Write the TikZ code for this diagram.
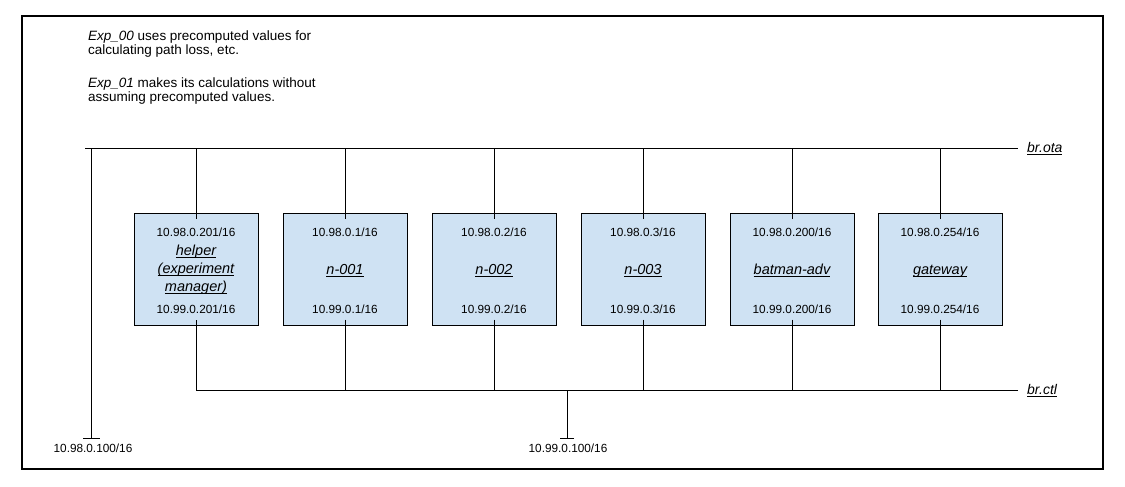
\documentclass[tikz,border=0pt]{standalone}
\usepackage{fontspec}
\setmainfont{Liberation Sans}
\usetikzlibrary{arrows.meta}
\definecolor{boxblue}{HTML}{CFE2F3}
\newcommand\myul[1]{\setbox0\hbox{#1}\rlap{\rule[-2.4pt]{\wd0}{0.9pt}}\box0}
\begin{document}
\begin{tikzpicture}[x=1pt,y=-1pt,
  hostbox/.style={draw=black, line width=1pt, fill=boxblue, minimum width=124pt, minimum height=112pt, inner sep=0pt},
  ip/.style={font=\fontsize{11.8}{14}\selectfont, inner sep=0pt, anchor=base},
  hname/.style={font=\fontsize{14.5}{18}\selectfont\itshape, inner sep=0pt, anchor=base},
  note/.style={font=\fontsize{13.5}{14.3}\selectfont, inner sep=0pt, anchor=base west},
  bus/.style={font=\fontsize{14}{16}\selectfont\itshape, inner xsep=9pt, inner ysep=0pt, anchor=base west},
  tap/.style={font=\fontsize{11.8}{14}\selectfont, inner xsep=0pt, inner ysep=4pt, anchor=base},
  wire/.style={line width=1pt},
]
\useasboundingbox (0,0) rectangle (1125,487);
\draw[line width=1.2pt] (22,16) rectangle (1103,469);

% notes
\node[note] (n1) at (88,41) {\textit{Exp\_00} uses precomputed values for};
\node[note] (n2) at (88,55) {calculating path loss, etc.};
\node[note] (n3) at (88,88) {\textit{Exp\_01} makes its calculations without};
\node[note] (n4) at (88,102) {assuming precomputed values.};

% bus labels
\node[bus] (ota) at (1018,152.5) {\myul{br.ota}};
\node[bus] (ctl) at (1018,394.5) {\myul{br.ctl}};
\coordinate (otaL) at (85,148.3);
\coordinate (otaTap) at (91,148.3);
\coordinate (ctlTap) at (567,390.7);

% boxes
\foreach \n/\x in {b1/196,b2/345,b3/494,b4/643,b5/792,b6/940}{
  \node[hostbox] (\n) at (\x,269) {};
}

% box texts
\node[ip] (t1) at ([yshift=-24pt]b1.north) {10.98.0.201/16};
\node[ip] (u1) at ([yshift=12pt]b1.south) {10.99.0.201/16};
\node[hname] (h1a) at ([yshift=-256+213]b1.north) {\myul{helper}};
\node[hname] (h1b) at ([yshift=-274+213]b1.north) {\myul{(experiment}};
\node[hname] (h1c) at ([yshift=-292+213]b1.north) {\myul{manager)}};

\node[ip] (t2) at ([yshift=-24pt]b2.north) {10.98.0.1/16};
\node[ip] (u2) at ([yshift=12pt]b2.south) {10.99.0.1/16};
\node[hname] (h2) at ([yshift=-5pt]b2.center) {\myul{n-001}};

\node[ip] (t3) at ([yshift=-24pt]b3.north) {10.98.0.2/16};
\node[ip] (u3) at ([yshift=12pt]b3.south) {10.99.0.2/16};
\node[hname] (h3) at ([yshift=-5pt]b3.center) {\myul{n-002}};

\node[ip] (t4) at ([yshift=-24pt]b4.north) {10.98.0.3/16};
\node[ip] (u4) at ([yshift=12pt]b4.south) {10.99.0.3/16};
\node[hname] (h4) at ([yshift=-5pt]b4.center) {\myul{n-003}};

\node[ip] (t5) at ([yshift=-24pt]b5.north) {10.98.0.200/16};
\node[ip] (u5) at ([yshift=12pt]b5.south) {10.99.0.200/16};
\node[hname] (h5) at ([yshift=-5pt]b5.center) {\myul{batman-adv}};

\node[ip] (t6) at ([yshift=-24pt]b6.north) {10.98.0.254/16};
\node[ip] (u6) at ([yshift=12pt]b6.south) {10.99.0.254/16};
\node[hname] (h6) at ([yshift=-5pt]b6.center) {\myul{gateway}};

% tap labels
\node[tap] (g1) at (93,452) {10.98.0.100/16};
\node[tap] (g2) at (568,452) {10.99.0.100/16};

% buses
\draw[wire] (otaL) -- (otaL -| ota.west);
\draw[wire] (ctl.west |- ctlTap) -- (b1.south |- ctlTap) -- ([yshift=6pt]b1.south);

% drops
\foreach \n in {b1,b2,b3,b4,b5,b6}{
  \draw[wire] (\n.north |- otaL) -- ([yshift=-6pt]\n.north);
}
\foreach \n in {b2,b3,b4,b5,b6}{
  \draw[wire] ([yshift=6pt]\n.south) -- (\n.south |- ctlTap);
}

% taps
\draw[wire,-{Bar[width=17pt]}] (otaTap) -- (otaTap |- g1.north);
\draw[wire,-{Bar[width=14pt]}] (ctlTap) -- (ctlTap |- g2.north);
\end{tikzpicture}
\end{document}
